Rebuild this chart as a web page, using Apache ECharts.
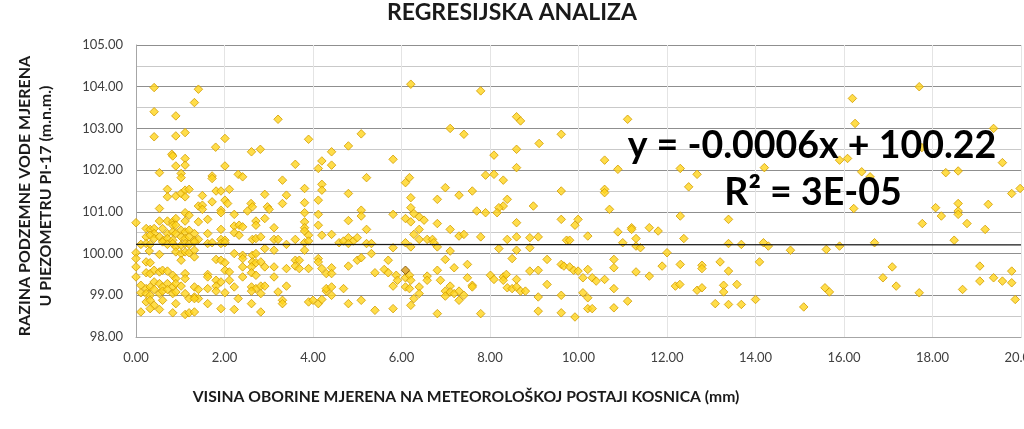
<!DOCTYPE html>
<html><head><meta charset="utf-8">
<script src="https://cdn.jsdelivr.net/npm/echarts@6/dist/echarts.min.js"></script>
<style>html,body{margin:0;padding:0;background:#fff}#c{width:1024px;height:429px}</style>
</head><body><div id="c"></div>
<script>
// Observations [rainfall mm, groundwater level m.n.m.] grouped by rainfall band
const obs0to3 = [
[0.41,103.98],[1.41,103.94],[1.32,103.62],[0.41,103.40],[0.90,103.30],[0.41,102.80],[0.90,102.82],[1.11,102.90],[2.01,102.76],[1.80,102.55],
[2.61,102.44],[2.81,102.50],[0.81,102.38],[0.83,102.34],[1.11,102.28],[0.90,102.10],[1.11,102.12],[2.01,102.10],[0.53,101.94],[1.02,101.92],
[1.02,101.82],[1.72,101.86],[1.72,101.80],[2.31,101.90],[2.41,101.84],[0.71,101.54],[0.71,101.36],[0.90,101.38],[1.02,101.44],[1.11,101.52],
[1.20,101.54],[1.11,101.36],[1.50,101.39],[1.81,101.50],[1.92,101.50],[2.11,101.54],[2.91,101.42],[1.72,101.24],[2.01,101.28],[2.07,101.20],
[1.41,101.14],[1.50,101.16],[1.50,101.06],[0.53,101.08],[2.60,101.20],[2.63,101.12],[2.97,101.12],[3.01,101.06],[1.92,101.04],[1.92,100.98],
[2.52,101.02],[2.22,100.94],[1.11,100.98],[1.20,100.92],[0.00,100.74],[0.53,100.78],[0.71,100.78],[0.83,100.76],[0.90,100.84],[0.83,100.68],
[0.90,100.68],[1.11,100.78],[1.41,100.76],[1.62,100.82],[1.92,100.58],[2.22,100.66],[2.33,100.68],[2.41,100.64],[2.71,100.78],[2.71,100.68],
[2.91,100.84],[0.23,100.60],[0.32,100.58],[0.41,100.60],[0.41,100.48],[0.60,100.60],[0.71,100.48],[0.83,100.52],[0.90,100.48],[1.02,100.56],
[1.11,100.52],[1.20,100.56],[1.32,100.48],[1.62,100.48],[2.22,100.50],[2.33,100.44],[0.23,100.40],[0.32,100.44],[0.41,100.36],[0.53,100.40],
[0.62,100.32],[0.71,100.36],[0.83,100.32],[1.02,100.40],[1.11,100.36],[1.20,100.40],[1.32,100.32],[1.41,100.34],[1.92,100.34],[2.01,100.32],
[2.63,100.34],[2.71,100.36],[2.82,100.40],[0.11,100.22],[0.23,100.24],[0.32,100.22],[0.60,100.28],[0.71,100.22],[0.83,100.24],[0.90,100.16],
[1.02,100.20],[1.11,100.24],[1.20,100.22],[1.32,100.28],[1.62,100.24],[1.72,100.26],[1.92,100.24],[2.01,100.26],[2.91,100.12],[0.00,100.02],
[0.30,100.06],[0.53,99.98],[0.90,100.04],[1.02,100.00],[1.11,100.04],[1.20,100.02],[1.32,100.08],[0.00,99.88],[0.23,99.80],[0.32,99.78],
[1.02,99.84],[1.32,99.92],[1.81,99.86],[1.92,99.84],[2.01,99.78],[2.22,100.00],[2.41,99.96],[2.41,99.88],[2.63,99.96],[2.71,100.00],
[2.63,99.80],[2.71,99.78],[2.82,99.80],[0.00,99.68],[0.00,99.44],[0.23,99.54],[0.32,99.52],[0.41,99.60],[0.53,99.56],[0.60,99.60],
[0.71,99.58],[0.83,99.48],[0.90,99.40],[1.11,99.52],[1.11,99.40],[1.62,99.50],[1.62,99.44],[2.01,99.60],[2.11,99.56],[2.11,99.36],
[2.41,99.68],[2.41,99.44],[2.61,99.68],[2.61,99.54],[2.71,99.48],[2.91,99.68],[0.11,99.24],[0.23,99.16],[0.32,99.20],[0.41,99.32],
[0.53,99.28],[0.60,99.20],[0.71,99.28],[0.83,99.20],[0.90,99.28],[1.02,99.22],[1.32,99.20],[1.41,99.14],[1.62,99.16],[1.81,99.36],
[1.81,99.22],[1.92,99.32],[2.22,99.20],[2.61,99.20],[2.71,99.16],[2.82,99.22],[2.91,99.22],[0.11,99.06],[0.23,99.04],[0.32,99.00],
[0.41,99.14],[0.53,99.04],[0.60,99.10],[0.71,99.14],[0.83,99.04],[0.90,99.08],[1.11,99.04],[1.32,98.96],[1.41,98.92],[1.81,99.10],
[2.01,99.06],[2.61,99.10],[2.82,99.04],[0.23,98.84],[0.32,98.88],[0.41,98.76],[0.60,98.88],[0.90,98.80],[1.20,98.92],[1.32,98.92],
[1.62,98.80],[2.31,98.92],[2.61,98.80],[0.11,98.60],[0.32,98.68],[0.53,98.66],[0.83,98.58],[1.11,98.54],[1.20,98.58],[1.32,98.60],
[1.92,98.68],[2.22,98.66],[2.82,98.60]
];
const obs3to6 = [
[6.21,104.06],[3.21,103.22],[3.90,102.74],[5.09,102.87],[4.80,102.58],[4.42,102.44],[3.60,102.14],[4.20,102.22],[4.12,102.04],[4.42,102.12],
[5.81,102.26],[3.31,101.76],[3.81,101.56],[4.20,101.66],[4.20,101.52],[5.21,101.82],[6.09,101.70],[6.18,101.82],[3.40,101.40],[4.80,101.44],
[3.31,101.20],[3.81,101.22],[4.12,101.28],[6.21,101.34],[3.81,100.98],[4.12,100.94],[5.09,101.04],[5.09,100.90],[5.81,100.94],[6.09,100.84],
[6.21,101.10],[6.28,100.96],[6.40,100.88],[3.12,100.62],[3.81,100.76],[3.81,100.62],[4.12,100.68],[4.80,100.79],[5.21,100.58],[3.81,100.54],
[3.90,100.44],[4.20,100.44],[4.42,100.46],[6.21,100.76],[6.40,100.58],[6.28,100.46],[3.12,100.34],[3.21,100.34],[3.60,100.34],[3.81,100.26],
[3.90,100.30],[4.59,100.26],[4.69,100.30],[4.80,100.38],[4.91,100.30],[5.00,100.38],[4.80,100.24],[5.21,100.24],[5.32,100.24],[5.32,100.00],
[6.09,100.26],[6.40,100.34],[3.12,100.08],[3.40,100.22],[3.81,100.08],[5.81,100.14],[6.21,100.16],[3.12,99.68],[3.40,99.64],[3.60,99.84],
[3.69,99.84],[3.60,99.70],[3.69,99.64],[3.90,99.64],[4.12,99.88],[4.12,99.80],[4.20,99.64],[4.42,99.66],[4.30,99.52],[4.42,99.52],
[4.80,99.70],[5.00,99.84],[5.09,99.90],[5.40,99.54],[5.61,99.62],[5.70,99.84],[5.70,99.54],[5.88,99.48],[6.09,99.42],[6.18,99.48],
[6.21,99.36],[3.12,99.44],[3.21,99.08],[3.40,99.22],[3.31,98.88],[3.31,98.80],[3.90,98.84],[4.00,98.88],[4.12,98.80],[4.20,98.90],
[4.30,99.10],[4.30,99.16],[4.42,99.20],[4.42,99.00],[4.69,99.16],[4.80,98.80],[5.09,98.88],[5.40,98.64],[5.81,98.68],[5.81,99.22],
[5.91,99.36],[6.09,99.20],[6.18,99.16],[6.40,99.20],[6.40,99.04],[6.28,98.92],[6.21,98.76]
];
const obs6to10 = [
[7.79,103.90],[8.60,103.28],[8.69,103.18],[7.10,103.00],[7.41,102.86],[9.61,102.86],[9.11,102.64],[8.60,102.50],[8.09,102.36],[8.60,102.06],
[7.90,101.88],[8.09,101.90],[8.30,101.76],[6.99,101.58],[7.30,101.40],[7.60,101.50],[6.81,101.30],[9.61,101.50],[8.39,101.30],[8.30,101.14],
[8.20,101.10],[8.16,100.98],[7.70,101.02],[7.90,100.98],[8.98,101.14],[6.51,100.80],[6.81,100.72],[8.60,100.74],[9.61,100.82],[7.10,100.58],
[7.30,100.42],[7.41,100.46],[7.79,100.40],[8.39,100.34],[8.60,100.40],[8.90,100.38],[9.09,100.40],[6.58,100.34],[6.70,100.34],[6.73,100.26],
[6.81,100.16],[7.10,100.06],[8.20,100.12],[8.60,100.08],[8.90,100.14],[9.73,100.32],[6.99,99.86],[8.50,99.88],[9.29,99.86],[6.81,99.60],
[7.19,99.66],[7.49,99.74],[8.90,99.58],[9.09,99.60],[9.61,99.74],[9.67,99.70],[6.58,99.46],[6.58,99.36],[6.88,99.36],[7.49,99.42],
[7.60,99.24],[7.60,99.20],[8.01,99.48],[8.09,99.38],[8.30,99.44],[8.30,99.36],[8.37,99.50],[8.39,99.18],[8.50,99.16],[8.60,99.20],
[8.60,99.38],[8.69,99.10],[8.80,99.10],[9.29,99.26],[6.99,99.10],[6.99,98.98],[7.10,99.22],[7.10,99.08],[7.19,99.04],[7.30,99.10],
[7.30,98.88],[7.41,99.00],[9.09,98.96],[9.61,99.00],[6.81,98.56],[7.79,98.56],[9.09,98.62],[9.61,98.58]
];
const obs10to13 = [
[11.11,103.22],[10.59,102.24],[10.89,102.02],[12.30,102.04],[12.68,101.90],[12.49,101.60],[10.59,101.54],[10.59,101.46],[10.70,101.06],[12.30,100.90],
[9.99,100.82],[9.92,100.68],[9.80,100.32],[10.21,100.42],[10.89,100.52],[11.20,100.62],[11.20,100.58],[11.60,100.62],[11.80,100.54],[12.38,100.36],
[11.00,100.26],[11.30,100.36],[11.30,100.18],[11.40,100.14],[12.00,100.02],[10.80,99.86],[10.80,99.66],[9.80,99.68],[9.89,99.60],[9.99,99.58],
[10.21,99.62],[10.10,99.42],[10.31,99.42],[10.40,99.34],[10.59,99.38],[11.30,99.56],[11.60,99.46],[11.89,99.70],[12.30,99.74],[12.79,99.72],
[12.79,99.64],[10.80,99.16],[10.10,99.06],[10.21,98.94],[12.19,99.22],[12.29,99.26],[12.68,99.12],[12.79,99.18],[10.21,98.68],[10.31,98.68],
[10.80,98.70],[11.11,98.86],[9.92,98.48]
];
const obs13to16 = [
[14.20,102.06],[13.39,100.82],[13.39,100.24],[13.68,100.22],[14.18,100.26],[14.29,100.18],[14.79,100.08],[15.60,100.10],[15.90,100.18],[13.20,99.80],
[13.39,99.58],[14.09,99.80],[13.28,99.24],[13.28,99.08],[13.58,99.26],[15.57,99.18],[15.67,99.08],[13.09,98.80],[13.39,98.78],[13.68,98.78],
[14.00,98.90],[15.09,98.72],[15.90,102.24]
];
const obs16to20 = [
[16.08,102.28],[16.19,103.72],[16.25,103.12],[16.22,101.08],[17.70,104.00],[19.38,103.00],[17.76,102.54],[16.40,101.96],[16.59,101.84],[18.30,101.94],
[18.58,101.98],[19.58,102.18],[18.07,101.10],[18.20,100.90],[18.58,101.20],[18.58,101.02],[18.58,100.94],[18.78,100.72],[19.26,101.18],[19.19,100.58],
[19.79,101.44],[19.98,101.56],[17.77,100.72],[18.49,100.32],[16.69,100.26],[17.09,99.68],[19.07,99.70],[16.88,99.42],[17.18,99.22],[17.70,99.06],
[19.07,99.34],[19.38,99.42],[19.58,99.34],[19.79,99.58],[19.79,99.30],[19.87,98.90],[18.68,99.14]
];
const highlighted = [[6.09,99.60]];
const slope = -0.0006, intercept = 100.22;
const xTicks = {min:0, max:20, interval:2};
const yTicks = {min:98, max:105, interval:1};
const titleText = 'REGRESIJSKA ANALIZA';
const xName = 'VISINA OBORINE MJERENA NA METEOROLOŠKOJ POSTAJI KOSNICA (mm)';
const yName = 'RAZINA PODZEMNE VODE MJERENA\nU PIEZOMETRU PI-17 (m.n.m.)';
const eqLine1 = 'y = -0.0006x + 100.22';
const eqLine2 = 'R² = 3E-05';

const allObs = [].concat(obs0to3, obs3to6, obs6to10, obs10to13, obs13to16, obs16to20);
const FONT = 'Lato, "Open Sans", sans-serif';
const chart = echarts.init(document.getElementById('c'), null, {renderer:'canvas'});
chart.setOption({
  animation:false,
  backgroundColor:'#fff',
  grid:{left:136, right:3, top:45, bottom:92, containLabel:false, outerBoundsMode:'none'},
  xAxis:{type:'value', min:xTicks.min, max:xTicks.max, interval:xTicks.interval,
    axisLine:{show:true, lineStyle:{color:'#a6a6a6', width:1}},
    axisTick:{show:false},
    axisLabel:{color:'#404040', fontFamily:FONT, fontSize:13, margin:14, formatter:v=>v.toFixed(2)},
    splitLine:{show:true, lineStyle:{color:'#e4e4e4', width:1}}},
  yAxis:{type:'value', min:yTicks.min, max:yTicks.max, interval:yTicks.interval,
    axisLine:{show:true, lineStyle:{color:'#a6a6a6', width:1}},
    axisTick:{show:false},
    axisLabel:{color:'#404040', fontFamily:FONT, fontSize:13, margin:13, formatter:v=>v.toFixed(2)},
    splitLine:{show:true, lineStyle:{color:'#8f8f8f', width:1}},
    minorTick:{show:false, splitNumber:2},
    minorSplitLine:{show:true, lineStyle:{color:'#c9c9c9', width:1}}},
  series:[
    {type:'scatter', data:allObs, symbol:'diamond', symbolSize:8.5,
     itemStyle:{color:'#FFD51C', borderColor:'#D29C00', borderWidth:1}, z:3},
    {type:'scatter', data:highlighted, symbol:'diamond', symbolSize:8.5,
     itemStyle:{color:'#D99A12', borderColor:'#7A4E00', borderWidth:1}, z:4},
    {type:'line', data:[[xTicks.min, intercept + slope*xTicks.min],[xTicks.max, intercept + slope*xTicks.max]],
     symbol:'none', lineStyle:{color:'#1a1a1a', width:1.3}, z:5, silent:true}
  ],
  graphic:[
    {type:'text', left:'center', top:1, style:{text:titleText, font:'bold 23px '+FONT, fill:'#1a1a1a'}},
    {type:'text', x:35, y:196, rotation:Math.PI/2, style:{text:yName, font:'bold 16px '+FONT, fill:'#1a1a1a', textAlign:'center', textVerticalAlign:'middle', lineHeight:21}},
    {type:'text', x:466, y:397, style:{text:xName, font:'bold 15.7px '+FONT, fill:'#1a1a1a', textAlign:'center', textVerticalAlign:'middle'}},
    {type:'text', x:812, y:146, z:10, style:{text:eqLine1, font:'bold 37.5px '+FONT, fill:'#000', textAlign:'center', textVerticalAlign:'middle'}},
    {type:'text', x:813, y:193, z:10, style:{text:eqLine2, font:'bold 37.5px '+FONT, fill:'#000', textAlign:'center', textVerticalAlign:'middle'}}
  ]
});
</script></body></html>
